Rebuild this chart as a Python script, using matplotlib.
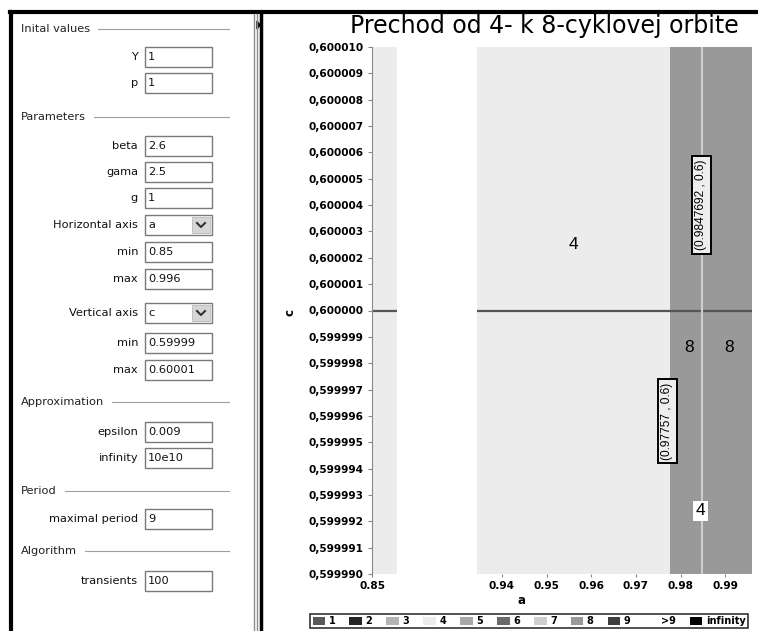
import matplotlib.pyplot as plt
from matplotlib.patches import Rectangle, Patch, Polygon

plt.rcParams['font.family'] = ['Liberation Sans', 'DejaVu Sans']

W, H = 758, 631

# --- data ---------------------------------------------------------------
title = "Prechod od 4- k 8-cyklovej orbite"
region_start = [0.85, 0.93442, 0.97757]
region_end = [0.85558, 0.97757, 0.996]
region_period = ['4', '4', '8']
boundary_a = 0.9847692
orbit_c = 0.6

period_labels = ['1', '2', '3', '4', '5', '6', '7', '8', '9', '>9', 'infinity']
period_colors = ['#595959', '#262626', '#b4b4b4', '#ececec', '#a8a8a8', '#6b6b6b',
                 '#cfcfcf', '#999999', '#3f3f3f', '#ffffff', '#000000']

label_text = ['4', '8', '8', '4']
label_a = [0.95607, 0.98201, 0.99089, 0.98442]
label_c = [0.6000025, 0.5999986, 0.5999986, 0.5999924]
label_boxed = [False, False, False, True]

point_text = ['(0.9847692 , 0.6)', '(0.97757 , 0.6)']
point_a = [0.98464, 0.97706]
point_c = [0.6000040, 0.5999958]

yticks = [0.599990 + i * 0.000001 for i in range(21)]
xticks_left = [0.85]
xticks_right = [0.94, 0.95, 0.96, 0.97, 0.98, 0.99]

headers = ['Inital values', 'Parameters', 'Approximation', 'Period', 'Algorithm']
header_y = [29, 117, 402, 491, 551]
fields = ['Y', 'p', 'beta', 'gama', 'g', 'Horizontal axis', 'min', 'max',
          'Vertical axis', 'min', 'max', 'epsilon', 'infinity', 'maximal period', 'transients']
values = ['1', '1', '2.6', '2.5', '1', 'a', '0.85', '0.996',
          'c', '0.59999', '0.60001', '0.009', '10e10', '9', '100']
combo = [False, False, False, False, False, True, False, False,
         True, False, False, False, False, False, False]
field_y = [57, 83, 146, 172, 198, 225, 252, 279, 313, 343, 370, 432, 458, 519, 581]

# --- figure -------------------------------------------------------------
fig = plt.figure(figsize=(W / 100, H / 100), dpi=100)
ui = fig.add_axes([0, 0, 1, 1], zorder=0)
ui.set_xlim(0, W)
ui.set_ylim(H, 0)
ui.axis('off')

gui_font = dict(family='DejaVu Sans', fontsize=8.2)

# frames
ui.plot([11, 11], [12, H], color='black', lw=3)
ui.plot([10, W], [12, 12], color='black', lw=3)
ui.plot([261, 261], [12, H], color='black', lw=2.5)
ui.plot([254, 254], [14, H], color='#8a8a8a', lw=1)
ui.plot([257, 257], [14, H], color='#8a8a8a', lw=1)
ui.add_patch(Polygon([[257, 21], [260, 25], [257, 29]], closed=True, color='black'))

fig.canvas.draw()
rend = fig.canvas.get_renderer()
for name, y in zip(headers, header_y):
    t = ui.text(21, y, name, ha='left', va='center', color='#222222', **gui_font)
    bb = t.get_window_extent(rend)
    x_end = ui.transData.inverted().transform((bb.x1, bb.y0))[0]
    ui.plot([x_end + 8, 229], [y, y], color='#a0a0a0', lw=0.8)

for name, val, is_combo, y in zip(fields, values, combo, field_y):
    ui.text(138, y, name, ha='right', va='center', color='#111111', **gui_font)
    ui.add_patch(Rectangle((145, y - 10), 67, 20, facecolor='white',
                           edgecolor='#7a7a7a', lw=1))
    ui.text(148, y, val, ha='left', va='center', color='#111111', **gui_font)
    if is_combo:
        ui.add_patch(Rectangle((192, y - 8), 18, 16, facecolor='#d6d6d6',
                               edgecolor='#bbbbbb', lw=0.6))
        ui.plot([197, 201, 205], [y - 2, y + 2, y - 2], color='#333333', lw=1.5)


def fmt_c(v):
    return f"{v:.6f}".replace('.', ',')


tick_font = dict(family='DejaVu Sans', fontsize=7.6, fontweight='bold')

ax_l = fig.add_axes([372 / W, 1 - 574 / H, 25 / W, 527 / H], zorder=1)
ax_r = fig.add_axes([477 / W, 1 - 574 / H, 275 / W, 527 / H], zorder=1)
ax_l.set_xlim(0.85, 0.85558)
ax_r.set_xlim(0.93442, 0.996)

for ax in (ax_l, ax_r):
    ax.set_ylim(0.59999, 0.60001)
    for s, e, p in zip(region_start, region_end, region_period):
        ax.axvspan(s, e, color=period_colors[period_labels.index(p)], lw=0)
    ax.axhline(orbit_c, color='#555555', lw=1.6)
    for sp in ax.spines.values():
        sp.set_visible(False)
    ax.tick_params(axis='x', length=2, color='#888888', pad=3)

ax_r.axvline(boundary_a, color='#cdcdcd', lw=1.5)

ax_l.spines['left'].set_visible(True)
ax_l.spines['left'].set_color('#8a8a8a')
ax_l.set_yticks(yticks)
ax_l.set_yticklabels([fmt_c(v) for v in yticks], **tick_font)
ax_l.tick_params(axis='y', length=3, color='#888888', pad=3)
ax_r.set_yticks([])

ax_l.set_xticks(xticks_left)
ax_l.set_xticklabels([f"{v:.2f}" for v in xticks_left], **tick_font)
ax_r.set_xticks(xticks_right)
ax_r.set_xticklabels([f"{v:.2f}" for v in xticks_right], **tick_font)

for txt, a, c, boxed in zip(label_text, label_a, label_c, label_boxed):
    bbox = dict(boxstyle='square,pad=0.15', fc='white', ec='none') if boxed else None
    ax_r.text(a, c, txt, fontsize=12.5, ha='center', va='center', bbox=bbox)

for txt, a, c in zip(point_text, point_a, point_c):
    ax_r.text(a, c, txt, fontsize=8.6, rotation=90, ha='center', va='center',
              bbox=dict(boxstyle='square,pad=0.3', fc='#eeeeee', ec='black', lw=1.4))

fig.text(544 / W, 1 - 33 / H, title, family='DejaVu Sans', fontsize=17,
         ha='center', va='baseline')
fig.text(290 / W, 1 - 313 / H, 'c', family='DejaVu Sans', fontsize=8.5,
         fontweight='bold', rotation=90, ha='center', va='center')
fig.text(522 / W, 1 - 601 / H, 'a', family='DejaVu Sans', fontsize=8.5,
         fontweight='bold', ha='center', va='center')

handles = [Patch(facecolor=c, edgecolor='none') for c in period_colors]
leg = fig.legend(handles, period_labels, ncol=len(period_labels), loc='center',
                 bbox_to_anchor=(529 / W, 1 - 621 / H),
                 prop=dict(family='DejaVu Sans', size=7, weight='bold'),
                 handlelength=1.3, handleheight=0.9, handletextpad=0.35,
                 columnspacing=1.45, borderpad=0.25, fancybox=False,
                 edgecolor='#333333', framealpha=1)
leg.get_frame().set_linewidth(1.2)

fig.savefig('out.png', dpi=100)
